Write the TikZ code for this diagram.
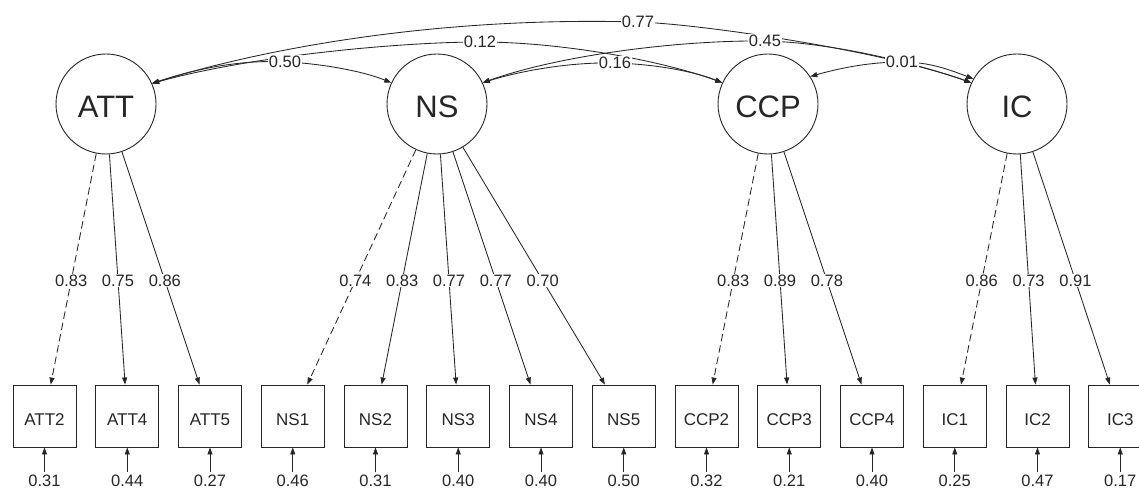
\documentclass[tikz,border=0pt]{standalone}
\usepackage{fontspec}
\setmainfont{Liberation Sans}
\usetikzlibrary{arrows.meta,calc}

\begin{document}
\begin{tikzpicture}[x=1pt,y=-1pt,
  every node/.style={text=black!85},
  latent/.style={circle,draw=black!85,line width=0.9pt,minimum size=100pt,inner sep=0pt,
    font=\fontsize{31}{31}\selectfont,text height=28pt,text depth=0pt},
  manifest/.style={rectangle,draw=black!85,line width=0.9pt,minimum width=63pt,minimum height=62pt,
    inner sep=0pt,font=\fontsize{17}{17}\selectfont,text height=18pt,text depth=0pt},
  tipend/.style={-{Triangle[length=7pt,width=5pt]}},
  loadline/.style={draw=black!85,line width=0.85pt,tipend},
  refload/.style={loadline,dash pattern=on 7.5pt off 4pt},
  covline/.style={draw=black!85,line width=0.85pt,
    {Triangle[length=7pt,width=5pt]}-{Triangle[length=7pt,width=5pt]}},
  estlbl/.style={fill=white,inner sep=1pt,font=\fontsize{16.5}{16.5}\selectfont},
  residlbl/.style={inner sep=3pt,font=\fontsize{16.5}{16.5}\selectfont},
]
\fill[white] (0,0) rectangle (1139,489);
\useasboundingbox (0,0) rectangle (1139,489);

% latent factors
\node[latent] (ATT) at (106,104) {ATT};
\node[latent] (NS)  at (437,104) {NS};
\node[latent] (CCP) at (768,104) {CCP};
\node[latent] (IC)  at (1017,104) {IC};

% indicators with residual variances
\foreach \n/\i/\r in {ATT2/0/0.31, ATT4/1/0.44, ATT5/2/0.27, NS1/3/0.46, NS2/4/0.31,
    NS3/5/0.40, NS4/6/0.40, NS5/7/0.50, CCP2/8/0.32, CCP3/9/0.21, CCP4/10/0.40,
    IC1/11/0.25, IC2/12/0.47, IC3/13/0.17} {
  \node[manifest] (\n) at (44.5+82.75*\i,416) {\n};
  \node[residlbl] (r\n) at (44.5+82.75*\i,481) {\r};
  \draw[loadline] (r\n) -- (\n);
}

% factor loadings
\foreach \l/\m/\s in {ATT/ATT2/refload, ATT/ATT4/loadline, ATT/ATT5/loadline,
    NS/NS1/refload, NS/NS2/loadline, NS/NS3/loadline, NS/NS4/loadline, NS/NS5/loadline,
    CCP/CCP2/refload, CCP/CCP3/loadline, CCP/CCP4/loadline,
    IC/IC1/refload, IC/IC2/loadline, IC/IC3/loadline} {
  \draw[\s] (\l) -- (\m);
}
\foreach \l/\m/\v in {ATT/ATT2/0.83, ATT/ATT4/0.75, ATT/ATT5/0.86,
    NS/NS1/0.74, NS/NS2/0.83, NS/NS3/0.77, NS/NS4/0.77, NS/NS5/0.70,
    CCP/CCP2/0.83, CCP/CCP3/0.89, CCP/CCP4/0.78,
    IC/IC1/0.86, IC/IC2/0.73, IC/IC3/0.91} {
  \node[estlbl] at ($(\l)!0.566!(\m)$) {\v};
}

% factor covariances
\coordinate (k50) at (285,62);
\coordinate (k12) at (480,42);
\coordinate (k77) at (638,22);
\coordinate (k16) at (615,63);
\coordinate (k45) at (765,41);
\coordinate (k01) at (902,62);

\draw[covline] (ATT.24) .. controls (210,64) and (255,60) .. (k50)
  .. controls (315,63) and (360,70) .. (NS.155);
\draw[covline] (ATT.24) .. controls (250,56) and (400,42) .. (k12)
  .. controls (560,42) and (660,60) .. (CCP.155);
\draw[covline] (ATT.24) .. controls (245,54) and (420,16) .. (k77)
  .. controls (700,24) and (880,50) .. (IC.155);
\draw[covline] (NS.25) .. controls (530,68) and (580,62) .. (k16)
  .. controls (650,64) and (690,70) .. (CCP.155);
\draw[covline] (NS.25) .. controls (560,55) and (680,40) .. (k45)
  .. controls (820,42) and (900,58) .. (IC.155);
\draw[covline] (CCP.33) .. controls (840,68) and (870,62) .. (k01)
  .. controls (930,62) and (950,70) .. (IC.150);

\node[estlbl] at (k50) {0.50};
\node[estlbl] at (k12) {0.12};
\node[estlbl] at (k77) {0.77};
\node[estlbl] at (k16) {0.16};
\node[estlbl] at (k45) {0.45};
\node[estlbl] at (k01) {0.01};
\end{tikzpicture}
\end{document}
